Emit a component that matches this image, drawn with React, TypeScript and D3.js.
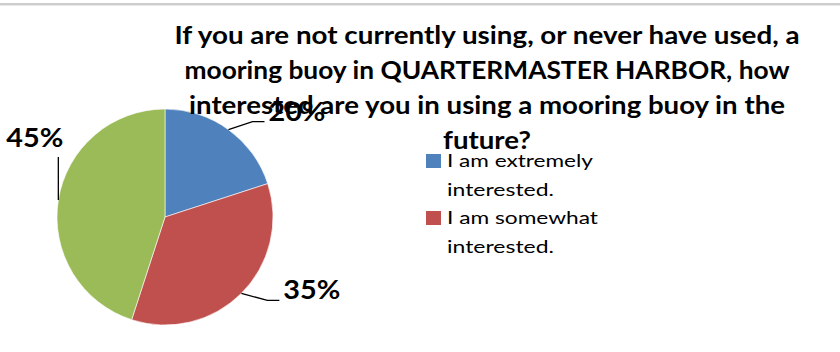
import React from "react";
import * as d3 from "d3";

// ---- data ----
const categories = [
  "I am extremely interested.",
  "I am somewhat interested.",
  "I am not interested.",
];
const values = [20, 35, 45];
const colors = ["#4F81BD", "#C0504D", "#9BBB59"];
const legendLines = [
  ["I am extremely", "interested."],
  ["I am somewhat", "interested."],
];
const titleLines = [
  "If you are not currently using, or never have used, a",
  "mooring buoy in QUARTERMASTER HARBOR, how",
  "interested are you in using a mooring buoy in the",
  "future?",
];

// ---- layout ----
const W = 840;
const H = 352;
const cx = 165;
const cy = 217;
const R = 108;
const titleX = 487;
const titleY0 = 44;
const titleStep = 35;
const titleWidths = [625, 605, 596, 88];
const legendX = 426;
const legendY0 = 154;
const legendEntryGap = 57;
const legendLineGap = 29;
const legendWidths = [
  [146, 107],
  [151, 107],
];
// leader-line layout per slice: elbow offset, horizontal tail, text offset
const leaders = [
  { elbow: [24, -8], tail: 12, text: [4, -1], anchor: "start" },
  { elbow: [26, 7], tail: 12, text: [4, -1], anchor: "start" },
  { elbow: [0, -43], tail: 0, text: [5, -10], anchor: "end" },
];

export default function App() {
  const total = d3.sum(values);
  const pie = d3
    .pie<number>()
    .sort(null)
    .startAngle(0)
    .endAngle(2 * Math.PI)(values);
  const arc = d3.arc<d3.PieArcDatum<number>>().innerRadius(0).outerRadius(R);
  const fmt = d3.format(".0%");
  const font = "Lato, 'Open Sans', sans-serif";

  return (
    <svg
      width={W}
      height={H}
      style={{ position: "absolute", left: 0, top: 0, background: "#fff" }}
    >
      <rect x={0} y={0} width={W} height={H} fill="#fff" />
      <line x1={0} x2={W} y1={4} y2={4} stroke="#9a9a9a" strokeWidth={1} />
      <line x1={0} x2={W} y1={5} y2={5} stroke="#cfcfcf" strokeWidth={1} />

      <g transform={`translate(${cx},${cy})`}>
        {pie.map((d, i) => (
          <path
            key={i}
            d={arc(d) || ""}
            fill={colors[i]}
            stroke="#fff"
            strokeWidth={0.6}
          />
        ))}
      </g>

      {titleLines.map((t, i) => (
        <text
          key={i}
          x={titleX}
          y={titleY0 + i * titleStep}
          textAnchor="middle"
          fontFamily={font}
          fontWeight="bold"
          fontSize={24}
          fill="#000"
          textLength={titleWidths[i]}
          lengthAdjust="spacingAndGlyphs"
        >
          {t}
        </text>
      ))}

      {pie.map((d, i) => {
        const mid = (d.startAngle + d.endAngle) / 2;
        const sx = cx + R * Math.sin(mid);
        const sy = cy - R * Math.cos(mid);
        const L = leaders[i];
        const ex = sx + L.elbow[0];
        const ey = sy + L.elbow[1];
        const tx = ex + L.tail;
        const pts: [number, number][] = [
          [sx, sy],
          [ex, ey],
          [tx, ey],
        ];
        return (
          <g key={i}>
            <path
              d={d3.line()(pts) || ""}
              fill="none"
              stroke="#000"
              strokeWidth={1.3}
            />
            <text
              x={tx + L.text[0]}
              y={ey + L.text[1]}
              textAnchor={L.anchor as any}
              fontFamily={font}
              fontWeight="bold"
              fontSize={27}
              fill="#000"
              textLength={57}
              lengthAdjust="spacingAndGlyphs"
            >
              {fmt(values[i] / total)}
            </text>
          </g>
        );
      })}

      {legendLines.map((lines, i) => {
        const y = legendY0 + i * legendEntryGap;
        return (
          <g key={i}>
            <rect x={legendX} y={y} width={15} height={14} fill={colors[i]} />
            {lines.map((t, j) => (
              <text
                key={j}
                x={legendX + 21}
                y={y + 13 + j * legendLineGap}
                fontFamily={font}
                fontSize={18}
                fill="#000"
                textLength={legendWidths[i][j]}
                lengthAdjust="spacingAndGlyphs"
              >
                {t}
              </text>
            ))}
          </g>
        );
      })}
    </svg>
  );
}
